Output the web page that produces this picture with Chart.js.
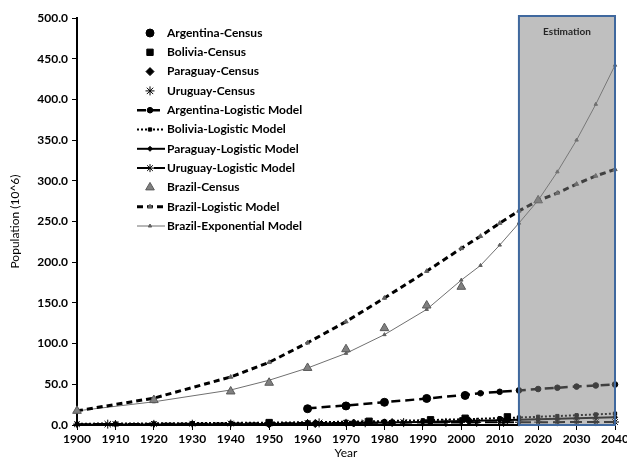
<!DOCTYPE html>
<html lang="en">
<head>
  <meta charset="UTF-8">
  <title>Population models</title>
  <script src="https://cdn.jsdelivr.net/npm/chart.js"></script>
  <style>
    html, body { margin: 0; padding: 0; background: #FFFFFF; }
    #box { width: 627px; height: 462px; }
  </style>
</head>
<body>
<div id="box"><canvas id="popChart" width="627" height="462"></canvas></div>

<script>
  // census years / values (10^6)
  const argentinaCensusYears = [1960, 1970, 1980, 1991, 2001];
  const argentinaCensus = [20.0, 23.4, 27.9, 32.6, 36.3];
  const boliviaCensusYears = [1950, 1976, 1992, 2001, 2012];
  const boliviaCensus = [3.0, 4.6, 6.4, 8.3, 10.0];
  const paraguayCensusYears = [1950, 1962, 1972, 1982, 1992, 2002, 2012];
  const paraguayCensus = [1.3, 1.8, 2.4, 3.0, 4.2, 5.2, 6.5];
  const uruguayCensusYears = [1908, 1963, 1975, 1985, 1996, 2004, 2011];
  const uruguayCensus = [1.04, 2.6, 2.8, 2.95, 3.16, 3.24, 3.29];
  const brazilCensusYears = [1900, 1920, 1940, 1950, 1960, 1970, 1980, 1991, 2000, 2020];
  const brazilCensus = [17.4, 30.6, 41.2, 51.9, 70.1, 93.1, 119.0, 146.8, 169.8, 276];

  // model curves
  const argentinaModelYears = [1960, 1970, 1980, 1991, 2001, 2005, 2010, 2015, 2020, 2025, 2030, 2035, 2040];
  const argentinaLogistic = [20.5, 24, 28, 32.5, 37, 39, 40.8, 42.5, 44.2, 45.8, 47.2, 48.6, 49.8];
  const smallModelYears = [1900, 1910, 1920, 1930, 1940, 1950, 1960, 1970, 1980, 1990, 2000, 2010, 2015, 2020, 2025, 2030, 2035, 2040];
  const boliviaLogistic = [1.6, 1.8, 2.0, 2.3, 2.6, 2.9, 3.4, 4.0, 4.8, 5.8, 7.0, 8.4, 9.2, 10.1, 11.0, 12.0, 13.0, 14.0];
  const paraguayLogistic = [0.4, 0.5, 0.6, 0.8, 1.0, 1.3, 1.7, 2.3, 3.0, 3.8, 4.8, 5.9, 6.5, 7.1, 7.7, 8.3, 8.9, 9.5];
  const uruguayLogistic = [1.0, 1.2, 1.4, 1.6, 1.8, 2.1, 2.4, 2.6, 2.8, 3.0, 3.2, 3.3, 3.4, 3.5, 3.5, 3.6, 3.6, 3.7];
  const brazilModelYears = [1900, 1920, 1940, 1950, 1960, 1970, 1980, 1991, 2000, 2005, 2010, 2015, 2020, 2025, 2030, 2035, 2040];
  const brazilLogistic = [17.4, 33, 59, 77, 101, 127, 156, 189, 217, 232, 248, 263, 275.6, 285, 296, 306, 314];
  const brazilExponential = [17.4, 28.5, 43, 55, 70, 88, 111, 142, 178, 196, 221, 248, 276, 311, 350, 394, 442];

  const ESTIMATION_START = 2015;
  const FONT = 'Lato, "Open Sans", sans-serif';

  function pts(xs, ys) {
    return xs.map((x, i) => ({ x: x, y: ys[i] }));
  }

  function census(label, xs, ys, style, r, fill) {
    return {
      label: label, data: pts(xs, ys), showLine: false,
      pointStyle: style, pointRadius: r, pointHoverRadius: r,
      backgroundColor: fill || '#000', borderColor: style === 'triangle' ? '#595959' : '#000',
      borderWidth: 1, clip: false
    };
  }

  function model(label, xs, ys, o) {
    return {
      label: label, data: pts(xs, ys), showLine: true,
      borderColor: o.color || '#000', borderWidth: o.width, borderDash: o.dash || [],
      pointStyle: o.style, pointRadius: o.r, pointHoverRadius: o.r,
      pointBackgroundColor: o.pfill || o.color || '#000', pointBorderColor: o.pfill || o.color || '#000',
      pointBorderWidth: 1, tension: 0, clip: false
    };
  }

  const datasets = [
    census('Argentina-Census', argentinaCensusYears, argentinaCensus, 'circle', 4),
    census('Bolivia-Census', boliviaCensusYears, boliviaCensus, 'rect', 4.5),
    census('Paraguay-Census', paraguayCensusYears, paraguayCensus, 'rectRot', 4),
    census('Uruguay-Census', uruguayCensusYears, uruguayCensus, 'star', 4.5),
    model('Argentina-Logistic Model', argentinaModelYears, argentinaLogistic, { width: 2.5, dash: [9, 5], style: 'circle', r: 2.8 }),
    model('Bolivia-Logistic Model', smallModelYears, boliviaLogistic, { width: 2, dash: [2, 2], style: 'rect', r: 2.3 }),
    model('Paraguay-Logistic Model', smallModelYears, paraguayLogistic, { width: 2, style: 'rectRot', r: 2.5 }),
    model('Uruguay-Logistic Model', smallModelYears, uruguayLogistic, { width: 2, dash: [12, 5], style: 'star', r: 4 }),
    census('Brazil-Census', brazilCensusYears, brazilCensus, 'triangle', 5, '#808080'),
    model('Brazil-Logistic Model', brazilModelYears, brazilLogistic, { width: 3, dash: [6, 4], style: 'triangle', r: 2.5, pfill: '#606060' }),
    model('Brazil-Exponential Model', brazilModelYears, brazilExponential, { width: 1, color: '#707070', style: 'triangle', r: 2, pfill: '#606060' })
  ];

  // shaded estimation period, drawn over the curves
  const estimationBox = {
    id: 'estimationBox',
    afterDatasetsDraw(chart) {
      const c = chart.ctx, xs = chart.scales.x, a = chart.chartArea;
      const x1 = xs.getPixelForValue(ESTIMATION_START), x2 = xs.getPixelForValue(xs.max);
      const top = a.top - 2;
      c.save();
      c.fillStyle = 'rgba(128,128,128,0.5)';
      c.fillRect(x1, top, x2 - x1, a.bottom - top);
      c.strokeStyle = '#3F689E';
      c.lineWidth = 2;
      c.strokeRect(x1, top, x2 - x1, a.bottom - top);
      c.fillStyle = '#262626';
      c.font = 'bold 10px ' + FONT;
      c.textAlign = 'center';
      c.textBaseline = 'middle';
      c.fillText('Estimation', (x1 + x2) / 2, top + 16);
      c.restore();
    }
  };

  // legend with line sample + marker, like the spreadsheet legend
  const sampleLegend = {
    id: 'sampleLegend',
    afterDraw(chart) {
      const c = chart.ctx;
      const mx = 150, lx1 = 137, lx2 = 165, tx = 167, y0 = 33, dy = 19.3;
      c.save();
      chart.data.datasets.forEach((ds, i) => {
        const y = y0 + i * dy;
        if (ds.showLine) {
          c.save();
          c.strokeStyle = ds.borderColor;
          c.lineWidth = ds.borderWidth;
          c.setLineDash(ds.borderDash || []);
          c.beginPath();
          c.moveTo(lx1, y);
          c.lineTo(lx2, y);
          c.stroke();
          c.restore();
        }
        c.fillStyle = ds.showLine ? ds.pointBackgroundColor : ds.backgroundColor;
        c.strokeStyle = ds.showLine ? ds.pointBorderColor : ds.borderColor;
        c.lineWidth = 1;
        c.setLineDash([]);
        Chart.helpers.drawPoint(c, {
          pointStyle: ds.pointStyle, radius: ds.pointRadius, borderWidth: 1, rotation: 0
        }, mx, y);
        c.fillStyle = '#000';
        c.font = 'bold 12px ' + FONT;
        c.textAlign = 'left';
        c.textBaseline = 'middle';
        c.fillText(ds.label, tx, y);
      });
      c.restore();
    }
  };

  const ctx = document.getElementById('popChart').getContext('2d');
  const chart = new Chart(ctx, {
    type: 'scatter',
    data: { datasets: datasets },
    plugins: [estimationBox, sampleLegend],
    options: {
      responsive: false,
      animation: false,
      layout: { padding: { left: 8, top: 18, right: 12, bottom: 0 } },
      plugins: { legend: { display: false }, tooltip: { enabled: false } },
      scales: {
        x: {
          type: 'linear', min: 1900, max: 2040,
          grid: { drawOnChartArea: false, drawTicks: true, tickLength: 5, color: '#000' },
          border: { color: '#000', width: 2 },
          ticks: { stepSize: 10, color: '#000', font: { family: FONT, size: 12, weight: 'bold' }, padding: 2,
                   callback: v => String(v), maxRotation: 0 },
          title: { display: true, text: 'Year', color: '#000', font: { family: FONT, size: 12 }, padding: { top: 0, bottom: 2 } },
          afterFit: s => { s.height = 37; s.paddingRight = 12; }
        },
        y: {
          min: 0, max: 500,
          grid: { drawOnChartArea: false, drawTicks: true, tickLength: 5, color: '#000' },
          border: { color: '#000', width: 2 },
          ticks: { stepSize: 50, color: '#000', font: { family: FONT, size: 12, weight: 'bold' }, padding: 4,
                   callback: v => v.toFixed(1) },
          title: { display: true, text: 'Population (10^6)', color: '#000', font: { family: FONT, size: 12 }, padding: 0 },
          afterFit: s => { s.width = 69; }
        }
      }
    }
  });
</script>
</body>
</html>
